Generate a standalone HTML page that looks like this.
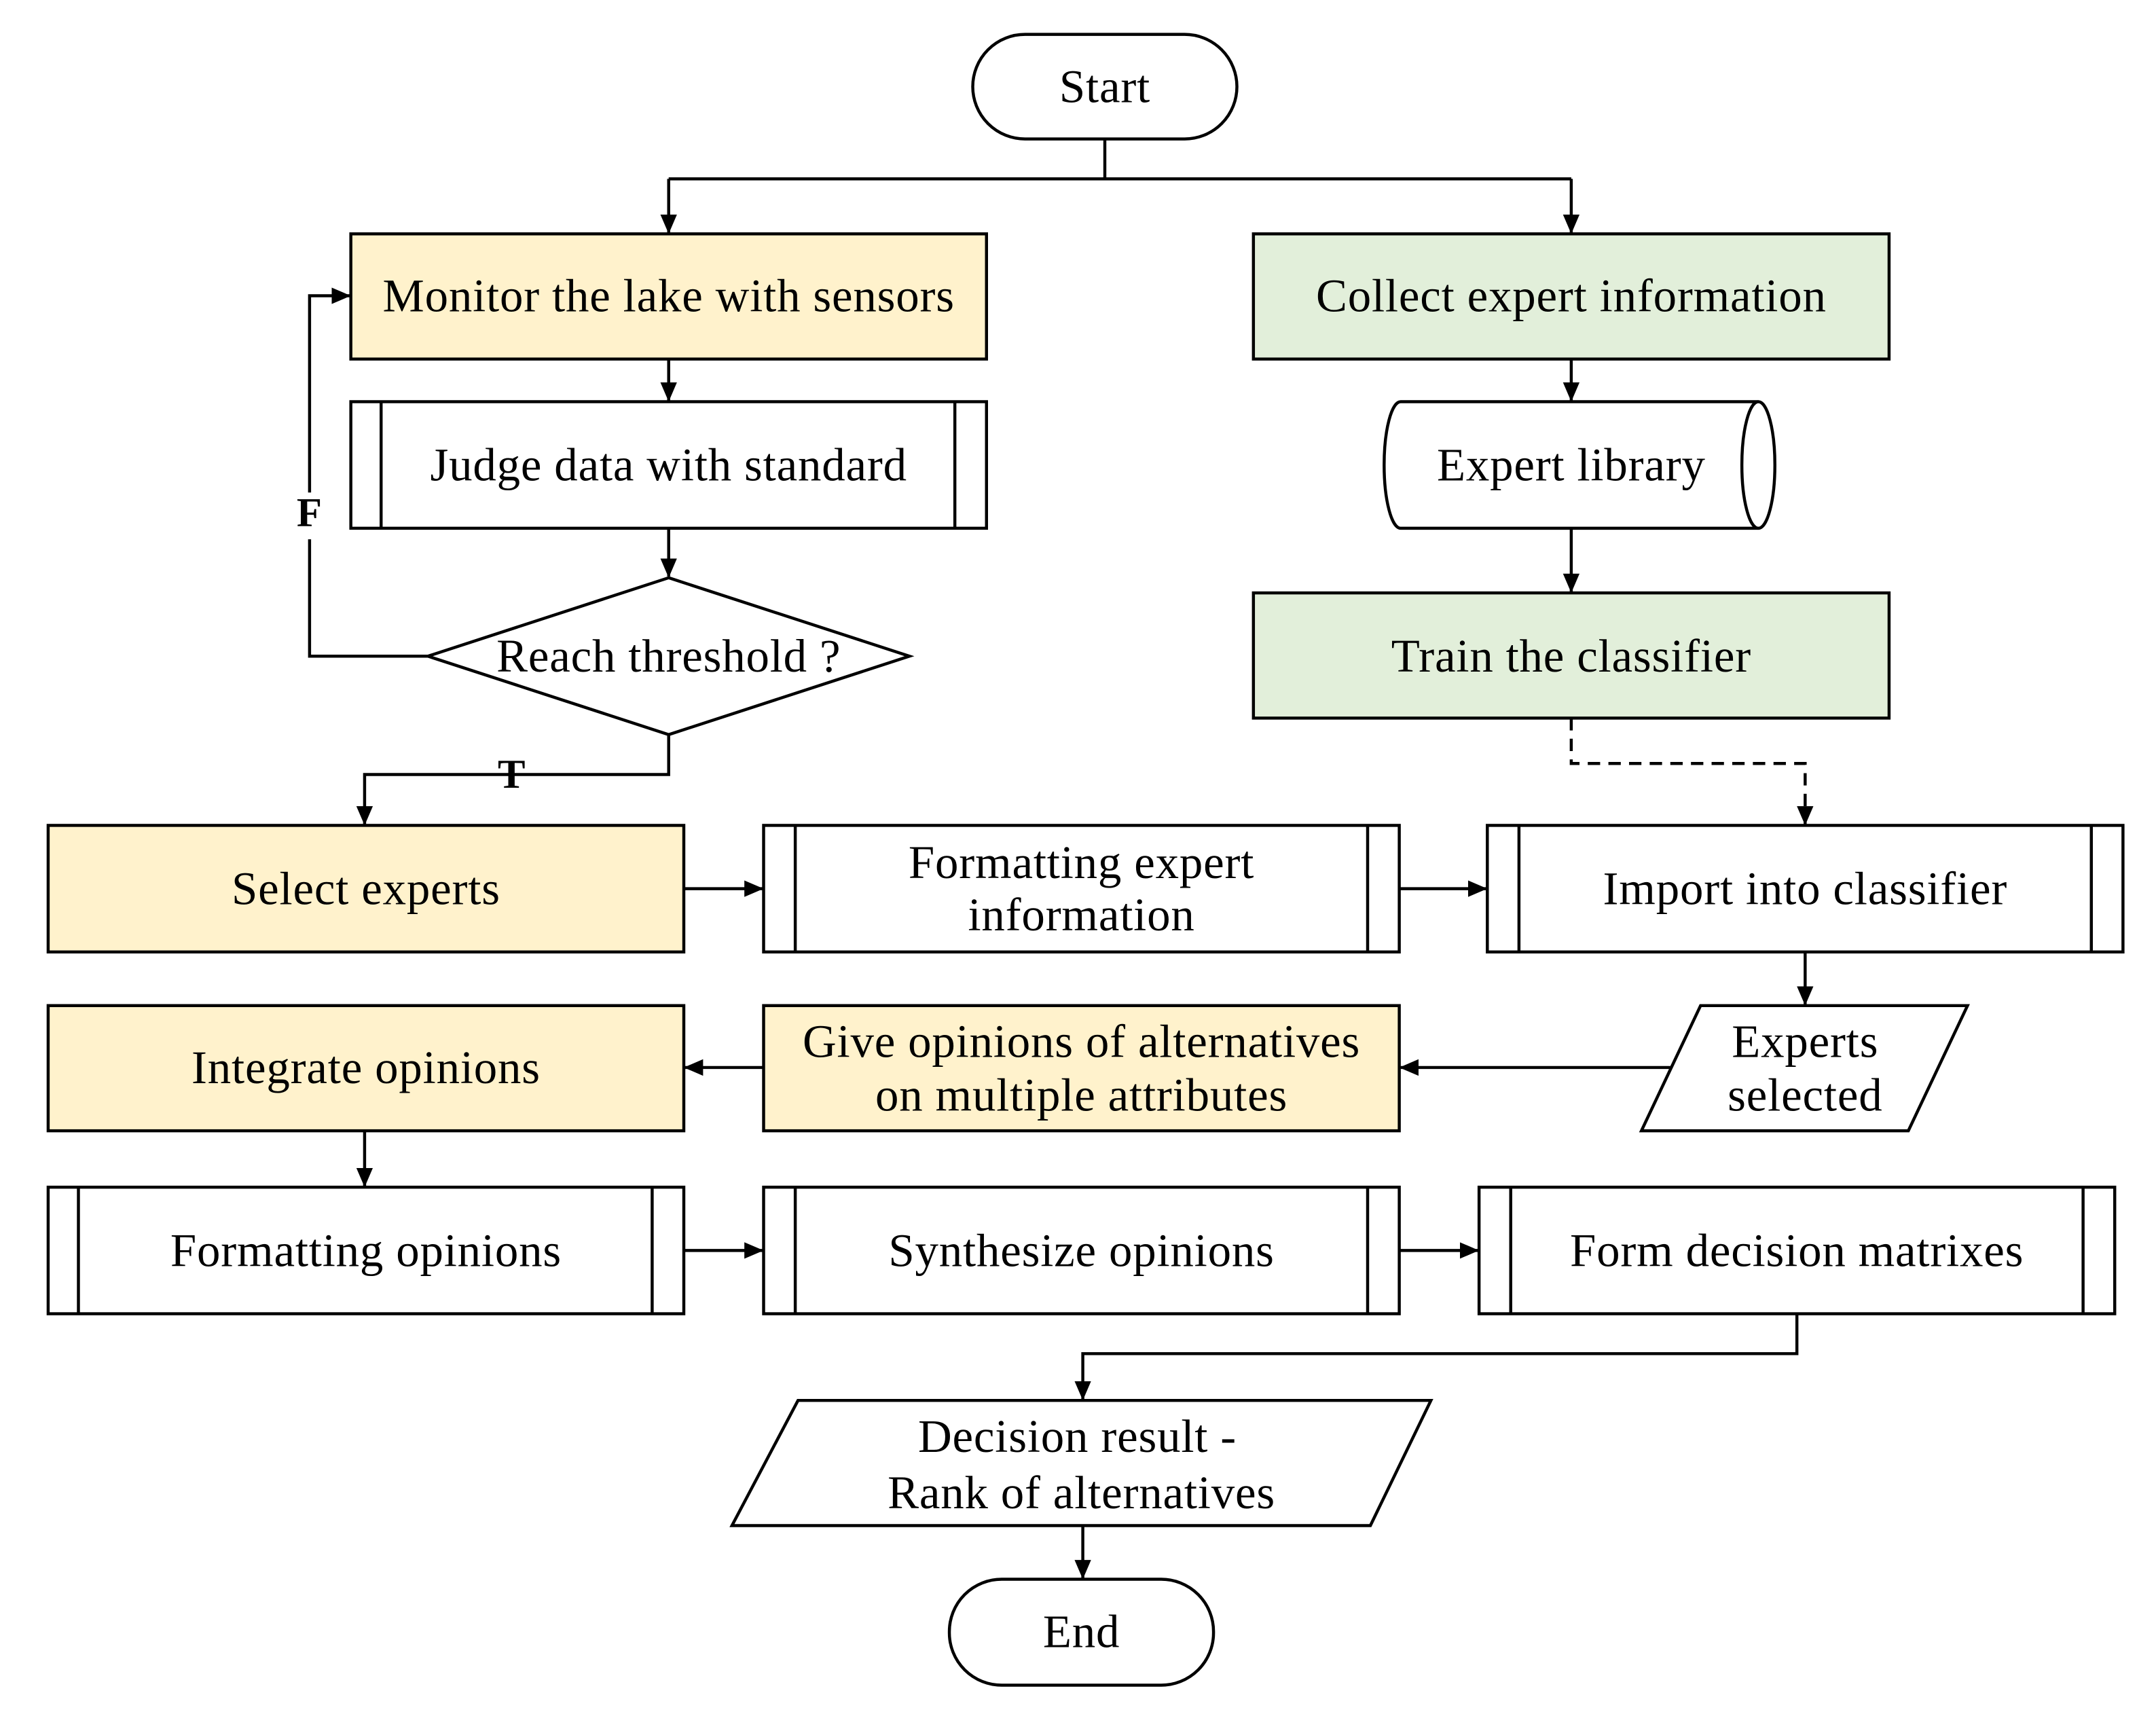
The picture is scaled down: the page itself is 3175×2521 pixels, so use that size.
<!DOCTYPE html>
<html><head><meta charset="utf-8"><style>
html,body{margin:0;padding:0;background:#fff}
svg{display:block}
text{font-family:"Liberation Serif",serif;font-size:34px;letter-spacing:0.4px;fill:#000}
</style></head><body>
<svg width="3175" height="2521" viewBox="0 0 1567 1244.5" preserveAspectRatio="none" xmlns="http://www.w3.org/2000/svg">
<defs><marker id="a" markerWidth="14" markerHeight="14" refX="13" refY="7" orient="auto" markerUnits="userSpaceOnUse"><path d="M0,1 L14,7 L0,13 z" fill="#000"/></marker></defs>
<g fill="none" stroke="#000" stroke-width="2.2">
<rect x="707" y="25" width="192" height="76" rx="38" fill="#fff"/>
<path d="M803,101 V130 M486,130 H1142"/>
<path d="M486,130 V169" marker-end="url(#a)"/>
<path d="M1142,130 V169" marker-end="url(#a)"/>
<rect x="255" y="170" width="462" height="91" fill="#FFF2CC"/>
<path d="M486,261 V291" marker-end="url(#a)"/>
<rect x="255" y="292" width="462" height="92" fill="#fff"/>
<path d="M277,292 V384 M694,292 V384"/>
<path d="M486,384 V419" marker-end="url(#a)"/>
<polygon points="486,420 661,477 486,534 311,477" fill="#fff"/>
<path d="M311,477 H225 V392 M225,358 V215 H254" marker-end="url(#a)"/>
<path d="M486,534 V563 H265 V599" marker-end="url(#a)"/>
<rect x="911" y="170" width="462" height="91" fill="#E2EFDA"/>
<path d="M1142,261 V291" marker-end="url(#a)"/>
<path d="M1018,292 H1278 A12,46 0 0 1 1278,384 H1018 A12,46 0 0 1 1018,292 Z" fill="#fff"/>
<path d="M1278,292 A12,46 0 0 0 1278,384"/>
<path d="M1142,384 V430" marker-end="url(#a)"/>
<rect x="911" y="431" width="462" height="91" fill="#E2EFDA"/>
<path d="M1142,522 V555 H1312 V599" stroke-dasharray="9,6" marker-end="url(#a)"/>
<rect x="35" y="600" width="462" height="92" fill="#FFF2CC"/>
<path d="M497,646 H554" marker-end="url(#a)"/>
<rect x="555" y="600" width="462" height="92" fill="#fff"/>
<path d="M578,600 V692 M994,600 V692"/>
<path d="M1017,646 H1080" marker-end="url(#a)"/>
<rect x="1081" y="600" width="462" height="92" fill="#fff"/>
<path d="M1104,600 V692 M1520,600 V692"/>
<path d="M1312,692 V730" marker-end="url(#a)"/>
<polygon points="1236,731 1430,731 1387,822 1193,822" fill="#fff"/>
<path d="M1214,776 H1018" marker-end="url(#a)"/>
<rect x="555" y="731" width="462" height="91" fill="#FFF2CC"/>
<path d="M555,776 H498" marker-end="url(#a)"/>
<rect x="35" y="731" width="462" height="91" fill="#FFF2CC"/>
<path d="M265,822 V862" marker-end="url(#a)"/>
<rect x="35" y="863" width="462" height="92" fill="#fff"/>
<path d="M57,863 V955 M474,863 V955"/>
<path d="M497,909 H554" marker-end="url(#a)"/>
<rect x="555" y="863" width="462" height="92" fill="#fff"/>
<path d="M578,863 V955 M994,863 V955"/>
<path d="M1017,909 H1074" marker-end="url(#a)"/>
<rect x="1075" y="863" width="462" height="92" fill="#fff"/>
<path d="M1098,863 V955 M1514,863 V955"/>
<path d="M1306,955 V984 H787 V1017" marker-end="url(#a)"/>
<polygon points="580,1018 1040,1018 996,1109 532,1109" fill="#fff"/>
<path d="M787,1109 V1147" marker-end="url(#a)"/>
<rect x="690" y="1148" width="192" height="77" rx="38" fill="#fff"/>
</g>
<g text-anchor="middle" dominant-baseline="central">
<text x="803" y="63">Start</text>
<text x="486" y="215">Monitor the lake with sensors</text>
<text x="486" y="338">Judge data with standard</text>
<text x="486" y="477">Reach threshold ?</text>
<text x="225" y="373" font-weight="bold" style="font-size:30px">F</text>
<text x="372" y="563" font-weight="bold" style="font-size:30px">T</text>
<text x="1142" y="215">Collect expert information</text>
<text x="1142" y="338">Expert library</text>
<text x="1142" y="477">Train the classifier</text>
<text x="266" y="646">Select experts</text>
<text x="786" y="627">Formatting expert</text>
<text x="786" y="665">information</text>
<text x="1312" y="646">Import into classifier</text>
<text x="1312" y="757">Experts</text>
<text x="1312" y="796">selected</text>
<text x="786" y="757">Give opinions of alternatives</text>
<text x="786" y="796">on multiple attributes</text>
<text x="266" y="776">Integrate opinions</text>
<text x="266" y="909">Formatting opinions</text>
<text x="786" y="909">Synthesize opinions</text>
<text x="1306" y="909">Form decision matrixes</text>
<text x="783" y="1044">Decision result  -</text>
<text x="786" y="1085">Rank of alternatives</text>
<text x="786" y="1186">End</text>
</g>
</svg>
</body></html>
